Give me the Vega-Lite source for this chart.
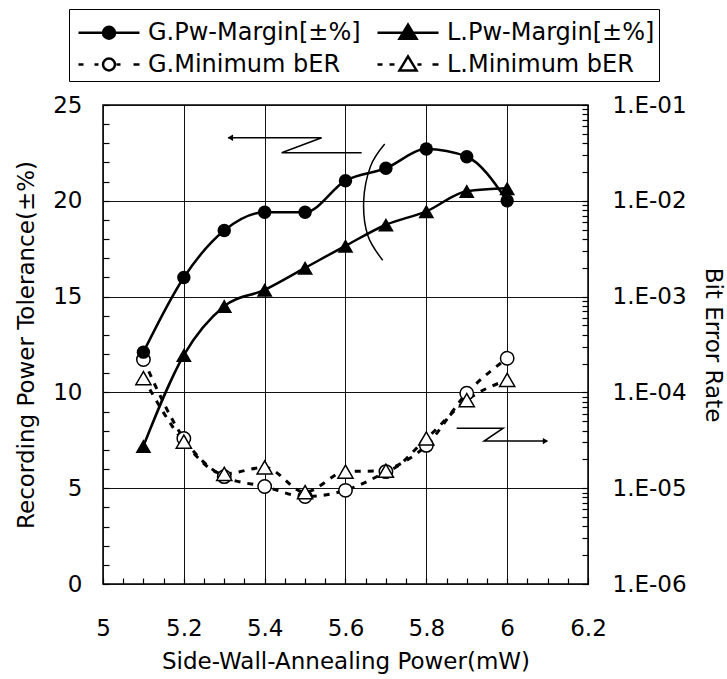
{
  "$schema": "https://vega.github.io/schema/vega-lite/v6.json",
  "width": 485,
  "height": 479,
  "autosize": {"type": "none"},
  "padding": {"left": 103, "top": 105, "right": 139, "bottom": 95},
  "config": {
    "font": "DejaVu Sans",
    "view": {"stroke": "black", "strokeWidth": 1.5},
    "axis": {
      "labelFontSize": 23,
      "titleFontSize": 23,
      "titleFontWeight": "normal",
      "labelColor": "black",
      "titleColor": "black",
      "ticks": true,
      "tickColor": "black",
      "tickWidth": 1.2,
      "domain": false,
      "gridColor": "#111",
      "gridWidth": 1,
      "labelOverlap": false,
      "labelFlush": false,
      "labelBound": false
    }
  },
  "datasets": {
    "pw": [
      {"x": 5.1, "series": "G.Pw-Margin[±%]", "value": 12.1},
      {"x": 5.2, "series": "G.Pw-Margin[±%]", "value": 16.0},
      {"x": 5.3, "series": "G.Pw-Margin[±%]", "value": 18.45},
      {"x": 5.4, "series": "G.Pw-Margin[±%]", "value": 19.4},
      {"x": 5.5, "series": "G.Pw-Margin[±%]", "value": 19.4},
      {"x": 5.6, "series": "G.Pw-Margin[±%]", "value": 21.05},
      {"x": 5.7, "series": "G.Pw-Margin[±%]", "value": 21.7},
      {"x": 5.8, "series": "G.Pw-Margin[±%]", "value": 22.7},
      {"x": 5.9, "series": "G.Pw-Margin[±%]", "value": 22.3},
      {"x": 6.0, "series": "G.Pw-Margin[±%]", "value": 20.0},
      {"x": 5.1, "series": "L.Pw-Margin[±%]", "value": 7.2},
      {"x": 5.2, "series": "L.Pw-Margin[±%]", "value": 11.95},
      {"x": 5.3, "series": "L.Pw-Margin[±%]", "value": 14.5},
      {"x": 5.4, "series": "L.Pw-Margin[±%]", "value": 15.35},
      {"x": 5.5, "series": "L.Pw-Margin[±%]", "value": 16.5},
      {"x": 5.6, "series": "L.Pw-Margin[±%]", "value": 17.65},
      {"x": 5.7, "series": "L.Pw-Margin[±%]", "value": 18.75},
      {"x": 5.8, "series": "L.Pw-Margin[±%]", "value": 19.45},
      {"x": 5.9, "series": "L.Pw-Margin[±%]", "value": 20.5},
      {"x": 6.0, "series": "L.Pw-Margin[±%]", "value": 20.65}
    ],
    "ber": [
      {"x": 5.1, "series": "G.Minimum bER", "ber": 2.2e-4},
      {"x": 5.2, "series": "G.Minimum bER", "ber": 3.3e-5},
      {"x": 5.3, "series": "G.Minimum bER", "ber": 1.32e-5},
      {"x": 5.4, "series": "G.Minimum bER", "ber": 1.04e-5},
      {"x": 5.5, "series": "G.Minimum bER", "ber": 8.2e-6},
      {"x": 5.6, "series": "G.Minimum bER", "ber": 9.5e-6},
      {"x": 5.7, "series": "G.Minimum bER", "ber": 1.49e-5},
      {"x": 5.8, "series": "G.Minimum bER", "ber": 2.8e-5},
      {"x": 5.9, "series": "G.Minimum bER", "ber": 9.8e-5},
      {"x": 6.0, "series": "G.Minimum bER", "ber": 2.27e-4},
      {"x": 5.1, "series": "L.Minimum bER", "ber": 1.41e-4},
      {"x": 5.2, "series": "L.Minimum bER", "ber": 3.06e-5},
      {"x": 5.3, "series": "L.Minimum bER", "ber": 1.41e-5},
      {"x": 5.4, "series": "L.Minimum bER", "ber": 1.65e-5},
      {"x": 5.5, "series": "L.Minimum bER", "ber": 9.1e-6},
      {"x": 5.6, "series": "L.Minimum bER", "ber": 1.49e-5},
      {"x": 5.7, "series": "L.Minimum bER", "ber": 1.52e-5},
      {"x": 5.8, "series": "L.Minimum bER", "ber": 3.3e-5},
      {"x": 5.9, "series": "L.Minimum bER", "ber": 8.3e-5},
      {"x": 6.0, "series": "L.Minimum bER", "ber": 1.35e-4}
    ],
    "zarrows": [
      {"id": "a1", "o": 1, "x": 5.31, "value": 23.29},
      {"id": "a1", "o": 2, "x": 5.541, "value": 23.29},
      {"id": "a1", "o": 3, "x": 5.442, "value": 22.51},
      {"id": "a1", "o": 4, "x": 5.64, "value": 22.51},
      {"id": "a2", "o": 1, "x": 5.875, "value": 8.13},
      {"id": "a2", "o": 2, "x": 5.99, "value": 8.13},
      {"id": "a2", "o": 3, "x": 5.943, "value": 7.46},
      {"id": "a2", "o": 4, "x": 6.095, "value": 7.46}
    ],
    "paren": [
      {"o": 1, "x": 5.697, "value": 22.96},
      {"o": 2, "x": 5.662, "value": 21.8},
      {"o": 3, "x": 5.645, "value": 20.0},
      {"o": 4, "x": 5.655, "value": 18.2},
      {"o": 5, "x": 5.692, "value": 16.9}
    ],
    "headL": [{"x": 5.315, "value": 23.29}],
    "headR": [{"x": 6.095, "value": 7.46}]
  },
  "encoding": {
    "x": {
      "field": "x",
      "type": "quantitative",
      "scale": {"domain": [5, 6.2], "nice": false, "zero": false},
      "axis": {
        "title": "Side-Wall-Annealing Power(mW)",
        "values": [5, 5.05, 5.1, 5.15, 5.2, 5.25, 5.3, 5.35, 5.4, 5.45, 5.5, 5.55, 5.6, 5.65, 5.7, 5.75, 5.8, 5.85, 5.9, 5.95, 6, 6.05, 6.1, 6.15, 6.2],
        "labelExpr": "abs(datum.value*5 - round(datum.value*5)) < 0.001 ? format(datum.value, '.1~f') : ''",
        "tickSize": -6,
        "labelPadding": 39,
        "titlePadding": 10,
        "grid": true,
        "gridOpacity": {"condition": {"test": "abs(datum.value*5 - round(datum.value*5)) < 0.001", "value": 1}, "value": 0}
      }
    }
  },
  "layer": [
    {
      "data": {"name": "ber"},
      "encoding": {
        "y": {
          "field": "ber",
          "type": "quantitative",
          "scale": {"type": "log", "domain": [1e-6, 0.1], "nice": false},
          "axis": {
            "orient": "right",
            "title": "Bit Error Rate",
            "grid": false,
            "values": [1e-6, 2e-6, 3e-6, 4e-6, 5e-6, 6e-6, 7e-6, 8e-6, 9e-6, 1e-5, 2e-5, 3e-5, 4e-5, 5e-5, 6e-5, 7e-5, 8e-5, 9e-5, 1e-4, 2e-4, 3e-4, 4e-4, 5e-4, 6e-4, 7e-4, 8e-4, 9e-4, 1e-3, 2e-3, 3e-3, 4e-3, 5e-3, 6e-3, 7e-3, 8e-3, 9e-3, 1e-2, 2e-2, 3e-2, 4e-2, 5e-2, 6e-2, 7e-2, 8e-2, 9e-2, 0.1],
            "labelExpr": "abs(log(datum.value)/LN10 - round(log(datum.value)/LN10)) < 0.001 ? '1.E-0' + (-round(log(datum.value)/LN10)) : ''",
            "tickSize": -6,
            "labelPadding": 30,
            "titlePadding": 14
          }
        }
      },
      "layer": [
        {
          "mark": {"type": "line", "interpolate": "monotone", "stroke": "black", "strokeWidth": 3, "strokeDash": [6, 7]},
          "encoding": {"detail": {"field": "series", "type": "nominal"}}
        },
        {
          "transform": [{"filter": "datum.series === 'G.Minimum bER'"}],
          "mark": {"type": "point", "shape": "circle", "filled": true, "fill": "white", "stroke": "black", "strokeWidth": 1.5, "size": 180, "opacity": 1}
        },
        {
          "transform": [{"filter": "datum.series === 'L.Minimum bER'"}],
          "mark": {"type": "point", "shape": "triangle-up", "filled": true, "fill": "white", "stroke": "black", "strokeWidth": 1.5, "size": 230, "opacity": 1}
        }
      ]
    },
    {
      "encoding": {
        "y": {
          "field": "value",
          "type": "quantitative",
          "scale": {"domain": [0, 25], "nice": false},
          "axis": {
            "orient": "left",
            "title": "Recording Power Tolerance(±%)",
            "values": [0, 1, 2, 3, 4, 5, 6, 7, 8, 9, 10, 11, 12, 13, 14, 15, 16, 17, 18, 19, 20, 21, 22, 23, 24, 25],
            "labelExpr": "datum.value % 5 === 0 ? format(datum.value, 'd') : ''",
            "tickSize": -6,
            "labelPadding": 27,
            "titlePadding": 14,
            "grid": true,
            "gridOpacity": {"condition": {"test": "datum.value % 5 === 0", "value": 1}, "value": 0}
          }
        }
      },
      "layer": [
        {
          "data": {"name": "zarrows"},
          "mark": {"type": "line", "stroke": "black", "strokeWidth": 1.5},
          "encoding": {"detail": {"field": "id", "type": "nominal"}, "order": {"field": "o", "type": "quantitative"}}
        },
        {
          "data": {"name": "paren"},
          "mark": {"type": "line", "interpolate": "cardinal", "stroke": "black", "strokeWidth": 1.5},
          "encoding": {"order": {"field": "o", "type": "quantitative"}}
        },
        {
          "data": {"name": "headL"},
          "mark": {"type": "point", "shape": "triangle-left", "filled": true, "color": "black", "size": 40, "opacity": 1}
        },
        {
          "data": {"name": "headR"},
          "mark": {"type": "point", "shape": "triangle-right", "filled": true, "color": "black", "size": 40, "opacity": 1}
        },
        {
          "data": {"name": "pw"},
          "mark": {"type": "line", "interpolate": "monotone", "stroke": "black", "strokeWidth": 2.5},
          "encoding": {"detail": {"field": "series", "type": "nominal"}}
        },
        {
          "data": {"name": "pw"},
          "transform": [{"filter": "datum.series === 'G.Pw-Margin[±%]'"}],
          "mark": {"type": "point", "shape": "circle", "filled": true, "color": "black", "size": 180, "opacity": 1}
        },
        {
          "data": {"name": "pw"},
          "transform": [{"filter": "datum.series === 'L.Pw-Margin[±%]'"}],
          "mark": {"type": "point", "shape": "triangle-up", "filled": true, "color": "black", "size": 250, "opacity": 1}
        },
        {
          "data": {"name": "pw"},
          "mark": {"type": "point", "filled": true, "opacity": 0, "stroke": "black"},
          "encoding": {
            "shape": {
              "field": "series",
              "type": "nominal",
              "scale": {
                "domain": ["G.Pw-Margin[±%]", "L.Pw-Margin[±%]", "G.Minimum bER", "L.Minimum bER"],
                "range": [
                  "M-0.778,0L2.611,0M1.25,0A0.333,0.333,0,1,1,0.584,0A0.333,0.333,0,1,1,1.25,0Z",
                  "M-0.778,0L2.611,0M0.917,-0.45L1.39,0.33L0.444,0.33Z",
                  "M-0.778,0L-0.5,0M0.111,0L0.333,0M1.333,0L1.556,0M2.278,0L2.611,0M1.25,0A0.333,0.333,0,1,1,0.584,0A0.333,0.333,0,1,1,1.25,0Z",
                  "M-0.778,0L-0.5,0M-0.111,0L0.167,0M1.444,0L1.667,0M2.278,0L2.611,0M0.917,-0.45L1.39,0.33L0.444,0.33Z"
                ]
              },
              "legend": {
                "title": null,
                "orient": "none",
                "direction": "horizontal",
                "legendX": -34,
                "legendY": -96,
                "columns": 2,
                "columnPadding": 11,
                "rowPadding": 0,
                "padding": 4,
                "strokeColor": "black",
                "symbolSize": 1296,
                "symbolStrokeColor": "black",
                "symbolStrokeWidth": 2.5,
                "symbolOpacity": 1,
                "labelOffset": 36,
                "labelFontSize": 24,
                "labelColor": "black",
                "labelLimit": 400,
                "labelFont": "DejaVu Sans",
                "encode": {"symbols": {"update": {"stroke": {"value": "black"}, "strokeWidth": {"value": 2.5}, "opacity": {"value": 1}}}}
              }
            },
            "fill": {
              "field": "series",
              "type": "nominal",
              "scale": {
                "domain": ["G.Pw-Margin[±%]", "L.Pw-Margin[±%]", "G.Minimum bER", "L.Minimum bER"],
                "range": ["black", "black", "white", "white"]
              },
              "legend": {
                "title": null,
                "orient": "none",
                "direction": "horizontal",
                "legendX": -34,
                "legendY": -96,
                "columns": 2,
                "columnPadding": 11,
                "rowPadding": 0,
                "padding": 4,
                "strokeColor": "black",
                "symbolSize": 1296,
                "symbolStrokeColor": "black",
                "symbolStrokeWidth": 2.5,
                "symbolOpacity": 1,
                "labelOffset": 36,
                "labelFontSize": 24,
                "labelColor": "black",
                "labelLimit": 400,
                "labelFont": "DejaVu Sans",
                "encode": {"symbols": {"update": {"stroke": {"value": "black"}, "strokeWidth": {"value": 2.5}, "opacity": {"value": 1}}}}
              }
            }
          }
        }
      ]
    }
  ],
  "resolve": {"scale": {"y": "independent"}}
}
